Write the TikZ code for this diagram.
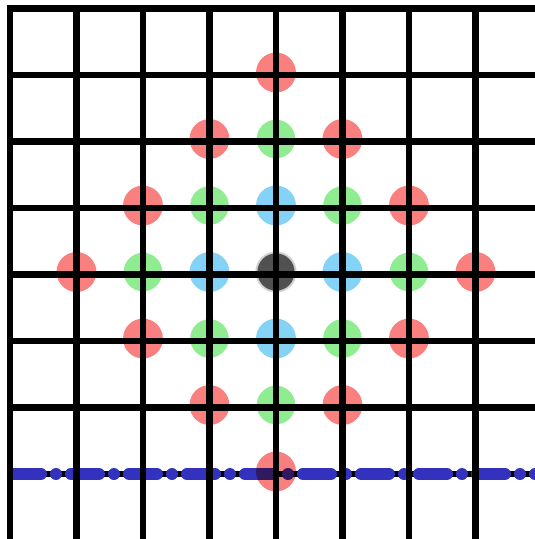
\documentclass[tikz,border=0pt]{standalone}
\usepackage{tikz}
\definecolor{dotred}{RGB}{250,128,128}
\definecolor{dotgreen}{RGB}{144,236,144}
\definecolor{dotblue}{RGB}{132,210,246}
\definecolor{dotcore}{RGB}{72,72,72}
\definecolor{lineblue}{RGB}{50,50,190}

\begin{document}
\begin{tikzpicture}[
  x=1.33cm, y=1.33cm,
  gridline/.style={line width=0.135cm, line cap=rect, black},
  cutline/.style={
    line width=0.24cm,
    line cap=round,
    lineblue,
    dash pattern=on 0.56cm off 0.3cm on 0cm off 0.3cm
  },
  spot/.style={blend mode=multiply}
]

\useasboundingbox (-4.150,-3.977) rectangle (3.895,4.128);
\clip (-4.150,-3.977) rectangle (3.895,4.128);

% rows of the grid
\foreach \j in {-3,...,4}
  \draw[gridline] (-4,\j) -- (4.2,\j);

% the blue line lies on the lowest row
\coordinate (cutstart) at (-3.955,-3);
\coordinate (cutend) at (4.2,-3);
\draw[cutline] (cutstart) -- (cutend);

% columns of the grid
\foreach \i in {-4,...,3}
  \draw[gridline] (\i,4) -- (\i,-4.2);

% rings of points round the centre
\begin{scope}[yshift=0.05cm]
\foreach \p in {(0,3),(-1,2),(1,2),(-2,1),(2,1),(-3,0),(3,0),(-2,-1),(2,-1),(-1,-2),(1,-2),(0,-3)}
  \fill[spot, dotred] \p circle (0.3);
\foreach \p in {(0,2),(-1,1),(1,1),(-2,0),(2,0),(-1,-1),(1,-1),(0,-2)}
  \fill[spot, dotgreen] \p circle (0.29);
\foreach \p in {(0,1),(-1,0),(1,0),(0,-1)}
  \fill[spot, dotblue] \p circle (0.3);
\fill[spot, dotcore!25!white] (0,0) circle (0.31);
\fill[spot, dotcore!85!white] (0,0) circle (0.28);
\end{scope}

\end{tikzpicture}
\end{document}
